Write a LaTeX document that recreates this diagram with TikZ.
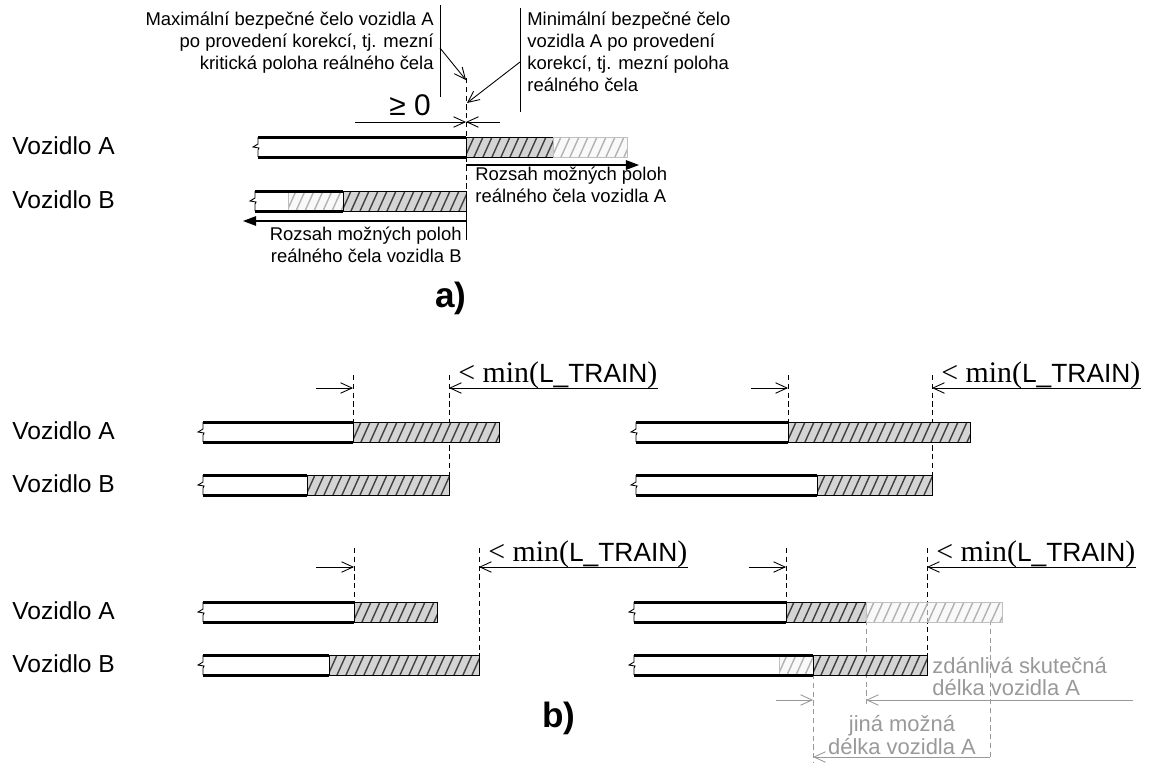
\documentclass[tikz,border=0pt]{standalone}
\usepackage{fontspec}
\setmainfont{Liberation Sans}
\newfontfamily\serifpart{Liberation Serif}
\usepackage{tikz}
\usetikzlibrary{arrows.meta}

\definecolor{dimgrey}{gray}{0.6}

% broken left end of a vehicle
\newcommand{\barbreak}[2]{%
  \draw[thin line] (#1,#2) -- (#1,#2+7) -- (#1-5,#2+10) -- (#1+1,#2+11)
    -- (#1,#2+13) -- (#1,#2+20);}
% thick outline of the vehicle body
\newcommand{\thickedges}[3]{%
  \draw[thick edge] (#1,#3) -- (#2,#3) (#1,#3+20) -- (#2,#3+20);}
% plain vehicle body: x1, x2, top
\newcommand{\whitebar}[3]{%
  \fill[white] (#1,#3) rectangle (#2,#3+20);
  \barbreak{#1}{#3}
  \thickedges{#1}{#2}{#3}}
% hatched part: x1, x2, top, dark/light
\newcommand{\hatchbar}[4]{%
  \begin{scope}
    \clip (#1,#3) rectangle (#2,#3+20);
    \fill[#4 fill] (#1,#3) rectangle (#2,#3+20);
    \pgfmathsetmacro\hatchend{#2-#1+20}
    \foreach \h in {0,9,...,\hatchend}
      \draw[#4 hatch] (#1-10+\h,#3+20) -- ++(9,-20);
  \end{scope}
  \draw[#4 edge] (#1,#3) rectangle (#2,#3+20);}
% the "< min(L_TRAIN)" tag
\newcommand{\mintrain}{%
  {\serifpart\fontsize{17}{20}\selectfont< min(}%
  {\fontsize{15}{18}\selectfont L\_TRAIN}%
  {\serifpart\fontsize{17}{20}\selectfont)}}

\begin{document}
\begin{tikzpicture}[
  x=0.02cm, y=-0.02cm,
  thin line/.style={line width=0.5pt},
  thick edge/.style={line width=1.7pt},
  guide/.style={line width=0.5pt, dash pattern=on 3pt off 2pt},
  grey guide/.style={guide, draw=dimgrey},
  dimarrow/.style={line width=0.5pt, -{Straight Barb[length=6.5pt,width=6pt]}},
  grey dimarrow/.style={dimarrow, draw=dimgrey},
  rangearrow/.style={line width=0.6pt, -{Triangle[length=7.5pt,width=5.5pt]}},
  dark fill/.style={fill=black!17},
  dark hatch/.style={draw=black!75, line width=0.8pt},
  dark edge/.style={draw=black, line width=0.4pt},
  light fill/.style={fill=black!4, fill opacity=0.6},
  light hatch/.style={draw=black!30, line width=0.8pt},
  light edge/.style={draw=black!25, line width=0.4pt},
  vehicle/.style={font=\fontsize{14}{16}\selectfont, anchor=west, inner sep=0pt},
  note/.style={font=\fontsize{10.5}{12.5}\selectfont, inner sep=0pt},
  greynote/.style={font=\fontsize{12.5}{12.5}\selectfont, text=dimgrey, inner sep=0pt},
  part/.style={font=\fontsize{20}{24}\selectfont\bfseries, inner sep=0pt},
  mintag/.style={anchor=base west, inner sep=0pt}
]
\useasboundingbox (0,0) rectangle (1155,765);

% -------------------------------------------------------------------
% a) limit positions of the front
% -------------------------------------------------------------------
\node[note, align=right, anchor=north east] (maxnote) at (434,12)
  {Maximální bezpečné čelo vozidla A\\po provedení korekcí, tj. mezní\\kritická poloha reálného čela};
\node[note, align=left, anchor=north west] (minnote) at (527,12)
  {Minimální bezpečné čelo\\vozidla A po provedení\\korekcí, tj. mezní poloha\\reálného čela};

\coordinate (maxtop) at (440,5);
\coordinate (maxbot) at (440,97);
\coordinate (mintop) at (520,8);
\coordinate (minbot) at (520,112);
\coordinate (maxtip) at (466,80);
\coordinate (mintip) at (467,103);
\draw[thin line] (maxtop) -- (maxbot);
\draw[thin line] (mintop) -- (minbot);
\draw[dimarrow] (440,48) -- (maxtip);
\draw[dimarrow] (520,62) -- (mintip);

\coordinate (front) at (466,122);
\draw[dimarrow] (355,122) -- (front);
\draw[dimarrow] (500,122) -- (front);
\node[inner sep=0pt, anchor=base east, font=\fontsize{17}{20}\selectfont] (geq) at (431,115) {≥ 0};

\draw[guide] (466,78) -- (466,211);
\draw[thin line] (466,211) -- (466,240);

\node[vehicle] (vozAa) at (12,146) {Vozidlo A};
\node[vehicle] (vozBa) at (12,200) {Vozidlo B};

\whitebar{258}{466}{137}
\hatchbar{466}{553}{137}{dark}
\hatchbar{553}{627}{137}{light}

\whitebar{255}{343}{191}
\hatchbar{288}{343}{191}{light}
\thickedges{255}{343}{191}
\hatchbar{343}{466}{191}{dark}

\coordinate (rangeA) at (466,165);
\coordinate (rangeB) at (466,221);
\draw[rangearrow] (rangeA) -- (639,165);
\draw[rangearrow] (rangeB) -- (243,221);
\node[note, align=left, anchor=north west] (rangeAnote) at (475,167)
  {Rozsah možných poloh\\reálného čela vozidla A};
\node[note, align=right, anchor=north east] (rangeBnote) at (462,227)
  {Rozsah možných poloh\\reálného čela vozidla B};

\node[part] (parta) at (451,298) {a)};

% -------------------------------------------------------------------
% b) four cases
% -------------------------------------------------------------------
\node[vehicle] (vozAb1) at (12,431) {Vozidlo A};
\node[vehicle] (vozBb1) at (12,484) {Vozidlo B};
\node[vehicle] (vozAb2) at (12,611) {Vozidlo A};
\node[vehicle] (vozBb2) at (12,664) {Vozidlo B};

% case 1
\draw[guide] (353,375) -- (353,422);
\draw[guide] (449,375) -- (449,475);
\coordinate (endA1) at (353,388);
\coordinate (endB1) at (449,388);
\draw[dimarrow] (316,388) -- (endA1);
\node[mintag] (min1) at (458,382) {\mintrain};
\draw[dimarrow] (min1.east |- endB1) -- (endB1);
\whitebar{203}{353}{422}
\hatchbar{353}{499}{422}{dark}
\whitebar{203}{307}{475}
\hatchbar{307}{449}{475}{dark}

% case 2
\draw[guide] (788,375) -- (788,422);
\draw[guide] (932,375) -- (932,475);
\coordinate (endA2) at (788,388);
\coordinate (endB2) at (932,388);
\draw[dimarrow] (751,388) -- (endA2);
\node[mintag] (min2) at (941,382) {\mintrain};
\draw[dimarrow] (min2.east |- endB2) -- (endB2);
\whitebar{636}{788}{422}
\hatchbar{788}{970}{422}{dark}
\whitebar{636}{817}{475}
\hatchbar{817}{932}{475}{dark}

% case 3
\draw[guide] (354,548) -- (354,602);
\draw[guide] (479,548) -- (479,655);
\coordinate (endA3) at (354,567);
\coordinate (endB3) at (479,567);
\draw[dimarrow] (316,567) -- (endA3);
\node[mintag] (min3) at (488,561) {\mintrain};
\draw[dimarrow] (min3.east |- endB3) -- (endB3);
\whitebar{203}{354}{602}
\hatchbar{354}{437}{602}{dark}
\whitebar{203}{329}{655}
\hatchbar{329}{479}{655}{dark}

% case 4
\draw[grey guide] (813,674) -- (813,763);
\draw[grey guide] (866,620) -- (866,707);
\draw[grey guide] (990,620) -- (990,760);
\draw[guide] (786,548) -- (786,602);
\draw[guide] (927,548) -- (927,655);
\coordinate (endA4) at (786,567);
\coordinate (endB4) at (927,567);
\draw[dimarrow] (749,567) -- (endA4);
\node[mintag] (min4) at (936,561) {\mintrain};
\draw[dimarrow] (min4.east |- endB4) -- (endB4);
\whitebar{634}{786}{602}
\hatchbar{786}{866}{602}{dark}
\hatchbar{866}{1002}{602}{light}
\whitebar{634}{813}{655}
\hatchbar{779}{813}{655}{light}
\thickedges{634}{813}{655}
\hatchbar{813}{927}{655}{dark}

% apparent and other possible length of A
\coordinate (lenL) at (813,700);
\coordinate (lenR) at (866,700);
\draw[grey dimarrow] (776,700) -- (lenL);
\draw[grey dimarrow] (1133,700) -- (lenR);
\coordinate (altL) at (813,757);
\coordinate (altR) at (990,757);
\draw[grey dimarrow, {Straight Barb[length=6.5pt,width=6pt]}-] (altL) -- (altR);
\node[greynote, align=left, anchor=north west] (apparent) at (932,657)
  {zdánlivá skutečná\\délka vozidla A};
\node[greynote, align=center, anchor=north,
  font=\fontsize{12.5}{11.5}\selectfont] (other) at (902,715)
  {jiná možná\\délka vozidla A};

\node[part] (partb) at (559,718) {b)};

\end{tikzpicture}
\end{document}
